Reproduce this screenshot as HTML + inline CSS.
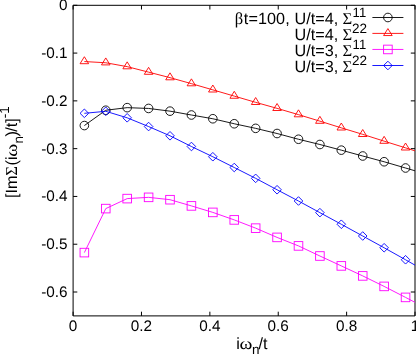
<!DOCTYPE html>
<html><head><meta charset="utf-8"><title>plot</title>
<style>
html,body{margin:0;padding:0;background:#fff;}
body{width:416px;height:354px;overflow:hidden;}
svg{display:block;will-change:transform;}
text{font-family:"Liberation Sans",sans-serif;fill:#000;text-rendering:geometricPrecision;}
.g{font-family:"Liberation Serif",serif;}
</style></head><body>
<svg width="416" height="354" viewBox="0 0 416 354">
<rect width="416" height="354" fill="#fff"/>
<g stroke="#000" stroke-width="1" fill="none">
<path d="M73.1 5.3H415.0V315.9H73.1Z"/>
<path d="M73.1 5.3h4.2M415.0 5.3h-4.2M73.1 53.08h4.2M415.0 53.08h-4.2M73.1 100.87h4.2M415.0 100.87h-4.2M73.1 148.65h4.2M415.0 148.65h-4.2M73.1 196.44h4.2M415.0 196.44h-4.2M73.1 244.22h4.2M415.0 244.22h-4.2M73.1 292.01h4.2M415.0 292.01h-4.2M73.1 315.9v-4.2M73.1 5.3v4.2M141.48 315.9v-4.2M141.48 5.3v4.2M209.86 315.9v-4.2M209.86 5.3v4.2M278.24 315.9v-4.2M278.24 5.3v4.2M346.62 315.9v-4.2M346.62 5.3v4.2M415 315.9v-4.2M415 5.3v4.2"/>
</g>
<g font-size="15.3" text-anchor="end">
<text x="67.6" y="10.3">0</text><text x="67.6" y="58.08">-0.1</text><text x="67.6" y="105.87">-0.2</text><text x="67.6" y="153.65">-0.3</text><text x="67.6" y="201.44">-0.4</text><text x="67.6" y="249.22">-0.5</text><text x="67.6" y="297.01">-0.6</text>
</g>
<g font-size="15.3" text-anchor="middle">
<text x="73.1" y="330.6">0</text><text x="141.48" y="330.6">0.2</text><text x="209.86" y="330.6">0.4</text><text x="278.24" y="330.6">0.6</text><text x="346.62" y="330.6">0.8</text><text x="415" y="330.6">1</text>
</g>
<g fill="none" stroke-width="0.9">
<polyline points="84.36,125.55 105.77,110.25 127.18,107.65 148.6,108.45 170.01,111.15 191.42,115 212.84,118.75 234.25,123.75 255.66,128.35 277.07,133.5 298.49,139.25 319.9,144.5 341.31,150.15 362.73,156 384.14,161.75 405.55,168 415,170.81" stroke="#000"/>
<circle cx="84.36" cy="125.55" r="4.3" stroke="#000"/><circle cx="105.77" cy="110.25" r="4.3" stroke="#000"/><circle cx="127.18" cy="107.65" r="4.3" stroke="#000"/><circle cx="148.6" cy="108.45" r="4.3" stroke="#000"/><circle cx="170.01" cy="111.15" r="4.3" stroke="#000"/><circle cx="191.42" cy="115" r="4.3" stroke="#000"/><circle cx="212.84" cy="118.75" r="4.3" stroke="#000"/><circle cx="234.25" cy="123.75" r="4.3" stroke="#000"/><circle cx="255.66" cy="128.35" r="4.3" stroke="#000"/><circle cx="277.07" cy="133.5" r="4.3" stroke="#000"/><circle cx="298.49" cy="139.25" r="4.3" stroke="#000"/><circle cx="319.9" cy="144.5" r="4.3" stroke="#000"/><circle cx="341.31" cy="150.15" r="4.3" stroke="#000"/><circle cx="362.73" cy="156" r="4.3" stroke="#000"/><circle cx="384.14" cy="161.75" r="4.3" stroke="#000"/><circle cx="405.55" cy="168" r="4.3" stroke="#000"/>
<polyline points="84.36,61.55 105.77,62.75 127.18,66.65 148.6,72.15 170.01,77.65 191.42,83.65 212.84,89.85 234.25,96.1 255.66,102.35 277.07,108.35 298.49,114.65 319.9,121.15 341.31,127.85 362.73,134.35 384.14,141.15 405.55,147.85 415,150.87" stroke="#f00"/>
<path d="M84.36 56.73L80.06 63.7L88.66 63.7Z" stroke="#f00"/><path d="M105.77 57.93L101.47 64.9L110.07 64.9Z" stroke="#f00"/><path d="M127.18 61.83L122.88 68.8L131.48 68.8Z" stroke="#f00"/><path d="M148.6 67.33L144.3 74.3L152.9 74.3Z" stroke="#f00"/><path d="M170.01 72.83L165.71 79.8L174.31 79.8Z" stroke="#f00"/><path d="M191.42 78.83L187.12 85.8L195.72 85.8Z" stroke="#f00"/><path d="M212.84 85.03L208.54 92L217.14 92Z" stroke="#f00"/><path d="M234.25 91.28L229.95 98.25L238.55 98.25Z" stroke="#f00"/><path d="M255.66 97.53L251.36 104.5L259.96 104.5Z" stroke="#f00"/><path d="M277.07 103.53L272.77 110.5L281.37 110.5Z" stroke="#f00"/><path d="M298.49 109.83L294.19 116.8L302.79 116.8Z" stroke="#f00"/><path d="M319.9 116.33L315.6 123.3L324.2 123.3Z" stroke="#f00"/><path d="M341.31 123.03L337.01 130L345.61 130Z" stroke="#f00"/><path d="M362.73 129.53L358.43 136.5L367.03 136.5Z" stroke="#f00"/><path d="M384.14 136.33L379.84 143.3L388.44 143.3Z" stroke="#f00"/><path d="M405.55 143.03L401.25 150L409.85 150Z" stroke="#f00"/>
<polyline points="84.36,252.6 105.77,208.6 127.18,198.6 148.6,197.35 170.01,199.7 191.42,205.9 212.84,212.4 234.25,219.9 255.66,228.15 277.07,237.4 298.49,245.9 319.9,256 341.31,265.9 362.73,275.9 384.14,286.4 405.55,297.4 415,302.35" stroke="#f0f"/>
<rect x="80.06" y="248.3" width="8.6" height="8.6" stroke="#f0f"/><rect x="101.47" y="204.3" width="8.6" height="8.6" stroke="#f0f"/><rect x="122.88" y="194.3" width="8.6" height="8.6" stroke="#f0f"/><rect x="144.3" y="193.05" width="8.6" height="8.6" stroke="#f0f"/><rect x="165.71" y="195.4" width="8.6" height="8.6" stroke="#f0f"/><rect x="187.12" y="201.6" width="8.6" height="8.6" stroke="#f0f"/><rect x="208.54" y="208.1" width="8.6" height="8.6" stroke="#f0f"/><rect x="229.95" y="215.6" width="8.6" height="8.6" stroke="#f0f"/><rect x="251.36" y="223.85" width="8.6" height="8.6" stroke="#f0f"/><rect x="272.77" y="233.1" width="8.6" height="8.6" stroke="#f0f"/><rect x="294.19" y="241.6" width="8.6" height="8.6" stroke="#f0f"/><rect x="315.6" y="251.7" width="8.6" height="8.6" stroke="#f0f"/><rect x="337.01" y="261.6" width="8.6" height="8.6" stroke="#f0f"/><rect x="358.43" y="271.6" width="8.6" height="8.6" stroke="#f0f"/><rect x="379.84" y="282.1" width="8.6" height="8.6" stroke="#f0f"/><rect x="401.25" y="293.1" width="8.6" height="8.6" stroke="#f0f"/>
<polyline points="84.36,113.3 105.77,111.3 127.18,117.8 148.6,126.55 170.01,135.8 191.42,146.5 212.84,156.75 234.25,167.5 255.66,178.35 277.07,189.75 298.49,201 319.9,212.65 341.31,224.25 362.73,236 384.14,247.75 405.55,259.75 415,265.15" stroke="#00f"/>
<path d="M84.36 109L80.06 113.3L84.36 117.6L88.66 113.3Z" stroke="#00f"/><path d="M105.77 107L101.47 111.3L105.77 115.6L110.07 111.3Z" stroke="#00f"/><path d="M127.18 113.5L122.88 117.8L127.18 122.1L131.48 117.8Z" stroke="#00f"/><path d="M148.6 122.25L144.3 126.55L148.6 130.85L152.9 126.55Z" stroke="#00f"/><path d="M170.01 131.5L165.71 135.8L170.01 140.1L174.31 135.8Z" stroke="#00f"/><path d="M191.42 142.2L187.12 146.5L191.42 150.8L195.72 146.5Z" stroke="#00f"/><path d="M212.84 152.45L208.54 156.75L212.84 161.05L217.14 156.75Z" stroke="#00f"/><path d="M234.25 163.2L229.95 167.5L234.25 171.8L238.55 167.5Z" stroke="#00f"/><path d="M255.66 174.05L251.36 178.35L255.66 182.65L259.96 178.35Z" stroke="#00f"/><path d="M277.07 185.45L272.77 189.75L277.07 194.05L281.37 189.75Z" stroke="#00f"/><path d="M298.49 196.7L294.19 201L298.49 205.3L302.79 201Z" stroke="#00f"/><path d="M319.9 208.35L315.6 212.65L319.9 216.95L324.2 212.65Z" stroke="#00f"/><path d="M341.31 219.95L337.01 224.25L341.31 228.55L345.61 224.25Z" stroke="#00f"/><path d="M362.73 231.7L358.43 236L362.73 240.3L367.03 236Z" stroke="#00f"/><path d="M384.14 243.45L379.84 247.75L384.14 252.05L388.44 247.75Z" stroke="#00f"/><path d="M405.55 255.45L401.25 259.75L405.55 264.05L409.85 259.75Z" stroke="#00f"/>
<path d="M372.4 17.5H403.4" stroke="#000"/><circle cx="387.9" cy="17.5" r="4.3" stroke="#000"/>
<path d="M372.4 33.4H403.4" stroke="#f00"/><path d="M387.9 28.58L383.6 35.55L392.2 35.55Z" stroke="#f00"/>
<path d="M372.4 49.45H403.4" stroke="#f0f"/><rect x="383.6" y="45.15" width="8.6" height="8.6" stroke="#f0f"/>
<path d="M372.4 65.5H403.4" stroke="#00f"/><path d="M387.9 61.2L383.6 65.5L387.9 69.8L392.2 65.5Z" stroke="#00f"/>
</g>
<g font-size="16.2">
<text x="234.8" y="24.1" class="g" font-size="16.6">β</text><text x="243.8" y="24.1" textLength="45.9" lengthAdjust="spacing">t=100,</text>
<text x="294.6" y="24.1">U/t=4,</text><text x="342.5" y="24.1" class="g" font-size="16.6">Σ</text><text x="352.6" y="16.5" font-size="13.5" textLength="13.6" lengthAdjust="spacingAndGlyphs">11</text>
<text x="294.6" y="40.1">U/t=4,</text><text x="342.5" y="40.1" class="g" font-size="16.6">Σ</text><text x="352.0" y="32.5" font-size="13.5">22</text>
<text x="294.6" y="56.4">U/t=3,</text><text x="342.5" y="56.4" class="g" font-size="16.6">Σ</text><text x="352.6" y="48.8" font-size="13.5" textLength="13.6" lengthAdjust="spacingAndGlyphs">11</text>
<text x="294.6" y="72.4">U/t=3,</text><text x="342.5" y="72.4" class="g" font-size="16.6">Σ</text><text x="352.0" y="64.8" font-size="13.5">22</text>
</g>
<g font-size="16.2">
<text x="236.3" y="348.7">i</text><text transform="translate(239.6 348.7) scale(1.18 1)" class="g" font-size="16.6">ω</text><text x="252.0" y="354.0" font-size="13.5">n</text><text x="258.6" y="348.7">/t</text>
<g transform="translate(17.4 198.0) rotate(-90)"><text x="0" y="0">[Im</text><text x="22.3" y="0" class="g" font-size="16.6">Σ</text><text x="32.6" y="0">(i</text><text transform="translate(41.3 0) scale(1.18 1)" class="g" font-size="16.6">ω</text><text x="54.6" y="5.3" font-size="13.5">n</text><text x="61.4" y="0">)</text><text x="66.2" y="0">/t]</text><text x="79.8" y="-8" font-size="13.5">-1</text></g>
</g>
</svg>
</body></html>
